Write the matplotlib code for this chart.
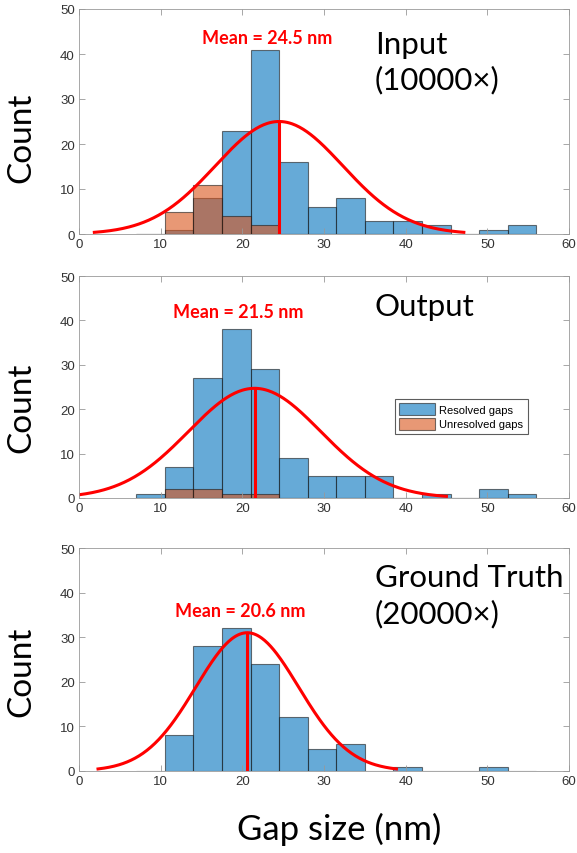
import numpy as np
import matplotlib.pyplot as plt

# histogram bin edges (nm), shared by all panels
edges = [7, 10.5, 14, 17.5, 21, 24.5, 28, 31.5, 35, 38.5, 42, 45.5, 49, 52.5, 56]

# counts per bin
input_resolved = [0, 1, 8, 23, 41, 16, 6, 8, 3, 3, 2, 0, 1, 2]
input_unresolved = [0, 5, 11, 4, 2, 0, 0, 0, 0, 0, 0, 0, 0, 0]
output_resolved = [1, 7, 27, 38, 29, 9, 5, 5, 5, 0, 1, 0, 2, 1]
output_unresolved = [0, 2, 2, 1, 1, 0, 0, 0, 0, 0, 0, 0, 0, 0]
truth_resolved = [0, 8, 28, 32, 24, 12, 5, 6, 0, 1, 0, 0, 1, 0]

# fitted normal curves: mean, sigma, peak height
fit_mean = [24.5, 21.5, 20.6]
fit_sigma = [7.8, 8.1, 6.3]
fit_peak = [25.0, 24.7, 31.0]

panel_labels = ['Input\n(10000×)', 'Output', 'Ground Truth\n(20000×)']

BLUE = '#0072BD'
ORANGE = '#D95319'
TXT = 'Lato'

fig = plt.figure(figsize=(5.77, 8.54), dpi=100)
left, width = 79 / 577, 490 / 577
boxes = [(235, 225), (499, 222), (772, 223)]

resolved = [input_resolved, output_resolved, truth_resolved]
unresolved = [input_unresolved, output_unresolved, None]
text_pos = [(23.1, 43.6), (19.5, 41.9), (19.7, 35.9)]
label_y = [38.3, 43.2, 39.4]
count_y = [0.43, 0.41, 0.45]

lo = np.array(edges[:-1])
w = np.diff(edges)

for i in range(3):
    bot, h = boxes[i]
    ax = fig.add_axes([left, (854 - bot) / 854, width, h / 854])

    ax.bar(lo, resolved[i], width=w, align='edge', color=BLUE, alpha=0.6,
           edgecolor='#1a1a1a', linewidth=0.8, label='Resolved gaps')
    if unresolved[i] is not None:
        ax.bar(lo, unresolved[i], width=w, align='edge', color=ORANGE, alpha=0.6,
               edgecolor='#1a1a1a', linewidth=0.8, label='Unresolved gaps')

    m, s, pk = fit_mean[i], fit_sigma[i], fit_peak[i]
    x = np.linspace(m - 2.9 * s, m + 2.9 * s, 300)
    ax.plot(x, pk * np.exp(-(x - m) ** 2 / (2 * s ** 2)), color='red', lw=2.2)
    ax.plot([m, m], [0, pk], color='red', lw=2.2)

    ax.text(text_pos[i][0], text_pos[i][1], f'Mean = {m} nm', color='red',
            fontsize=13, fontweight='bold', family=TXT, ha='center', va='center')
    ax.text(36.2, label_y[i], panel_labels[i], fontsize=22.5, family=TXT,
            ha='left', va='center', linespacing=1.3)

    ax.set_xlim(0, 60)
    ax.set_ylim(0, 50)
    ax.set_xticks(range(0, 61, 10))
    ax.set_yticks(range(0, 51, 10))
    ax.tick_params(direction='in', top=True, right=True, length=4, width=0.6,
                   colors='#999999', labelcolor='#333333', labelsize=9.5, pad=3)
    for lab in ax.get_xticklabels() + ax.get_yticklabels():
        lab.set_family('Liberation Sans')
    for sp in ax.spines.values():
        sp.set_color('#999999')
        sp.set_linewidth(0.6)
    ax.set_ylabel('Count', fontsize=24, family=TXT)
    ax.yaxis.set_label_coords(-0.086, count_y[i])

    if i == 1:
        leg = ax.legend(loc='lower left', bbox_to_anchor=(0.645, 0.288),
                        prop={'family': 'Liberation Sans', 'size': 8},
                        frameon=True, fancybox=False, edgecolor='#333333',
                        handlelength=3.2, handleheight=1.3, borderpad=0.4,
                        labelspacing=0.2, handletextpad=0.4, borderaxespad=0)
        leg.get_frame().set_linewidth(0.8)
    if i == 2:
        ax.set_xlabel('Gap size (nm)', fontsize=25, family=TXT, labelpad=18)
        ax.xaxis.label.set_x(0.531)

fig.savefig('out.png', dpi=100)
